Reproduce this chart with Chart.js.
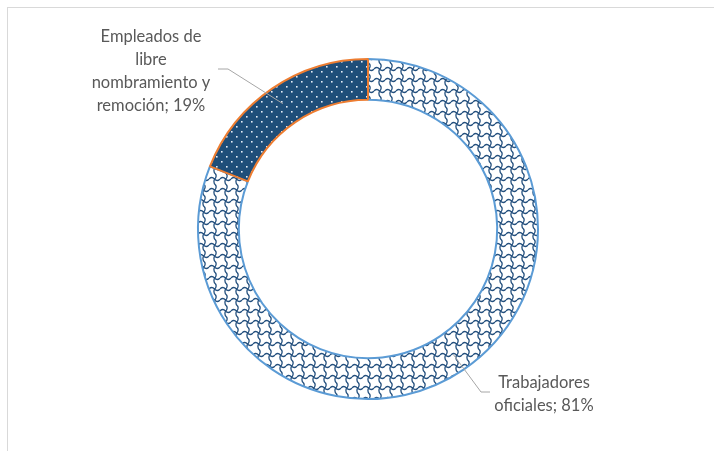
<!DOCTYPE html>
<html>
<head>
<meta charset="utf-8">
<script src="https://cdn.jsdelivr.net/npm/chart.js@4.4.0/dist/chart.umd.min.js"></script>
<style>
  html, body { margin: 0; padding: 0; background: #fff; }
  #wrap { position: relative; width: 714px; height: 451px; overflow: hidden; }
  #frame { position: absolute; left: 7px; top: 7px; width: 720px; height: 460px;
           border-top: 1px solid #d9d9d9; border-left: 1px solid #d9d9d9; }
  canvas { position: absolute; left: 0; top: 0; }
</style>
</head>
<body>
<div id="wrap">
  <div id="frame"></div>
  <canvas id="chart" width="714" height="451"></canvas>
</div>
<script>
const categories = ['Trabajadores oficiales', 'Empleados de libre nombramiento y remoción']
const shares = [81, 19]
// label text broken into lines as in the picture; the share is appended to the last line
const labelLines = [
  ['Trabajadores', 'oficiales'],
  ['Empleados de', 'libre', 'nombramiento y', 'remoción']
]

// where each label sits and where its leader line bends
const labelLayout = [
  { x: 544, y: 383, elbow: [481, 392], tail: [490, 392] },
  { x: 151, y: 37, elbow: [228, 69], tail: [218, 69] }
]

function makePattern (size, draw) {
  const c = document.createElement('canvas')
  c.width = size
  c.height = size
  const g = c.getContext('2d')
  draw(g, size)
  return g.createPattern(c, 'repeat')
}

const ctx = document.getElementById('chart').getContext('2d')

const wave = makePattern(11, (g, s) => {
  g.fillStyle = '#ffffff'
  g.fillRect(0, 0, s, s)
  g.strokeStyle = '#24507e'
  g.lineWidth = 1.3
  g.beginPath()
  g.moveTo(0, 3)
  g.quadraticCurveTo(2.75, 0, 5.5, 3)
  g.quadraticCurveTo(8.25, 6, 11, 3)
  g.moveTo(5.5, 3)
  g.quadraticCurveTo(4, 7, 6.5, 9)
  g.quadraticCurveTo(8, 11, 6, 14)
  g.moveTo(6.5, -2)
  g.quadraticCurveTo(8, 0, 6, 3)
  g.stroke()
})

const dots = makePattern(10, (g, s) => {
  g.fillStyle = '#1f4e79'
  g.fillRect(0, 0, s, s)
  g.fillStyle = '#e4ecf5'
  g.fillRect(1, 1, 1.6, 1.6)
  g.fillRect(6, 6, 1.6, 1.6)
})

const labelPlugin = {
  id: 'labels',
  afterDraw (chart) {
    const c = chart.ctx
    const arcs = chart.getDatasetMeta(0).data
    c.save()
    c.font = '16.5px Lato'
    c.fillStyle = '#595959'
    c.textAlign = 'center'
    c.textBaseline = 'middle'
    arcs.forEach((arc, i) => {
      const p = arc.getProps(['x', 'y', 'startAngle', 'endAngle', 'innerRadius', 'outerRadius'], true)
      const mid = (p.startAngle + p.endAngle) / 2
      const r = (p.innerRadius + p.outerRadius) / 2 + 2
      const ax = p.x + Math.cos(mid) * r
      const ay = p.y + Math.sin(mid) * r
      const lay = labelLayout[i]
      c.strokeStyle = '#a6a6a6'
      c.lineWidth = 1
      c.beginPath()
      c.moveTo(ax, ay)
      c.lineTo(lay.elbow[0], lay.elbow[1])
      c.lineTo(lay.tail[0], lay.tail[1])
      c.stroke()
      const lines = labelLines[i].slice()
      lines[lines.length - 1] += '; ' + shares[i] + '%'
      lines.forEach((t, k) => c.fillText(t, lay.x, lay.y + k * 23))
    })
    c.restore()
  }
}

new Chart(ctx, {
  type: 'doughnut',
  data: {
    labels: categories,
    datasets: [{
      data: shares,
      backgroundColor: [wave, dots],
      borderColor: ['#5b9bd5', '#ed7d31'],
      borderWidth: 2
    }]
  },
  options: {
    responsive: false,
    animation: false,
    events: [],
    cutout: '76%',
    layout: { padding: { left: 197, right: 175, top: 58, bottom: 51 } },
    plugins: {
      legend: { display: false },
      tooltip: { enabled: false }
    }
  },
  plugins: [labelPlugin]
})
</script>
</body>
</html>
